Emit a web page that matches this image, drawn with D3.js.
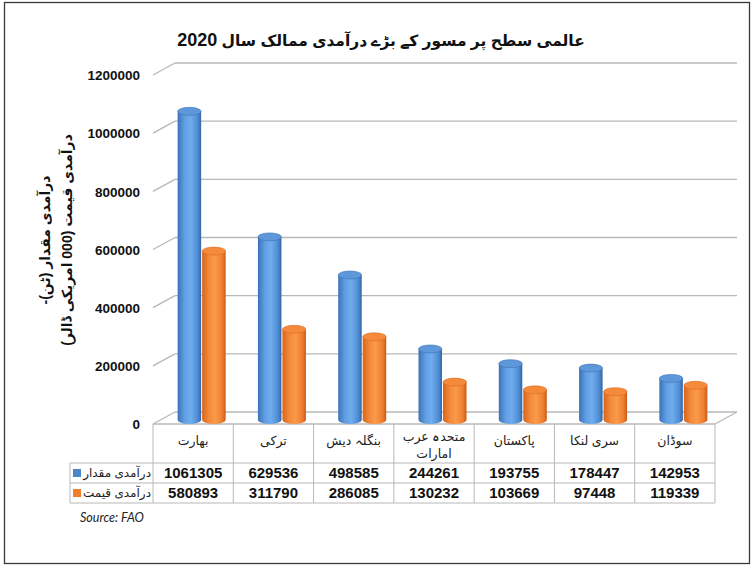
<!DOCTYPE html>
<html><head><meta charset="utf-8">
<script src="https://cdn.jsdelivr.net/npm/d3@7/dist/d3.min.js"></script>
<style>
html,body{margin:0;padding:0;background:#fff;}
svg{display:block;}
</style></head>
<body>
<svg id="chart" width="753" height="567"></svg>
<script>
const categories = ["بھارت", "ترکی", "بنگلہ دیش", "متحدہ عرب امارات", "پاکستان", "سری لنکا", "سوڈان"];
const categoryLines = [["بھارت"], ["ترکی"], ["بنگلہ دیش"], ["متحدہ عرب", "امارات"], ["پاکستان"], ["سری لنکا"], ["سوڈان"]];
const seriesNames = ["درآمدی مقدار", "درآمدی قیمت"];
const quantity = [1061305, 629536, 498585, 244261, 193755, 178447, 142953];
const value = [580893, 311790, 286085, 130232, 103669, 97448, 119339];
const yTicks = [0, 200000, 400000, 600000, 800000, 1000000, 1200000];
const titleText = "عالمی سطح پر مسور کے بڑے درآمدی ممالک سال";
const titleYear = "2020";
const yLabelLines = ["درآمدی مقدار (ٹن)-", "درآمدی قیمت (000 امریکی ڈالر)"];
const sourceText = "Source: FAO";

const svg = d3.select("#chart");
const font = "'Liberation Sans', Arial, 'DejaVu Sans', sans-serif";
const gridColor = "#B8B8B8";

// outer frame
svg.append("rect").attr("x", 4.5).attr("y", 2.5).attr("width", 745).attr("height", 561)
  .attr("fill", "#fff").attr("stroke", "#3a3a3a").attr("stroke-width", 1.3);

// title
const t = svg.append("text").attr("x", 381).attr("y", 46).attr("text-anchor", "middle")
  .attr("direction", "rtl")
  .attr("font-family", font).attr("font-weight", "bold")
  .attr("fill", "#111");
t.append("tspan").attr("font-size", 15.5).text(titleText + " ");
t.append("tspan").attr("font-size", 18).text(titleYear);

const left = 153, right = 715, y0 = 424, yTop = 75;
const depthX = 22, depthY = -12;
const y = d3.scaleLinear().domain([0, 1200000]).range([y0, yTop]);
const x0 = d3.scaleBand().domain(categories).range([left, right]).paddingInner(0).paddingOuter(0);
const series = ["q", "v"];
const bw = x0.bandwidth();
const x1 = d3.scaleBand().domain(series).range([bw / 2 - 24, bw / 2 + 24]).paddingInner(0.04);

// gridlines: back wall + side diagonals
const grid = svg.append("g");
yTicks.forEach(tk => {
  const yy = y(tk);
  grid.append("line").attr("x1", left).attr("y1", yy).attr("x2", left + depthX).attr("y2", yy + depthY)
    .attr("stroke", gridColor).attr("stroke-width", 1.3);
  grid.append("line").attr("x1", left + depthX).attr("y1", yy + depthY).attr("x2", right + depthX).attr("y2", yy + depthY)
    .attr("stroke", gridColor).attr("stroke-width", 1.3);
});
// floor
grid.append("line").attr("x1", left).attr("y1", y0).attr("x2", right).attr("y2", y0).attr("stroke", gridColor).attr("stroke-width", 1.3);
grid.append("line").attr("x1", right).attr("y1", y0).attr("x2", right + depthX).attr("y2", y0 + depthY).attr("stroke", gridColor).attr("stroke-width", 1.3);

// y axis labels
const yAxis = d3.axisLeft(y).tickValues(yTicks).tickFormat(d3.format("d")).tickSize(0).tickPadding(0);
const ga = svg.append("g").attr("transform", `translate(140,0)`).call(yAxis);
ga.select(".domain").remove();
ga.selectAll("text").attr("font-family", font).attr("font-weight", "bold").attr("font-size", 13.5).attr("fill", "#111").attr("dy", "0.35em");

// y axis title
yLabelLines.forEach((l, i) => {
  svg.append("text").attr("transform", `translate(${50 + i * 22},240) rotate(-90)`)
    .attr("text-anchor", "middle").attr("direction", "rtl")
    .attr("font-family", font).attr("font-weight", "bold").attr("font-size", 14).attr("fill", "#111")
    .text(l);
});

// gradients
const defs = svg.append("defs");
function grad(id, stops) {
  const g = defs.append("linearGradient").attr("id", id).attr("x1", "0%").attr("x2", "100%").attr("y1", "0%").attr("y2", "0%");
  stops.forEach(s => g.append("stop").attr("offset", s[0]).attr("stop-color", s[1]));
}
grad("gq", [["0%", "#3A72B8"], ["30%", "#639FE3"], ["55%", "#6FADEE"], ["85%", "#4F8CD2"], ["100%", "#3366A6"]]);
grad("gv", [["0%", "#D8641A"], ["30%", "#F48B3C"], ["55%", "#F99A4C"], ["85%", "#EE7E2E"], ["100%", "#C85A14"]]);
const topFill = { q: "#5E98DA", v: "#F48A3A" };
const topStroke = { q: "#3C72B5", v: "#D96C22" };
const legendColor = { q: "#4A86CC", v: "#F07F2C" };

// cylinders
const shiftX = 8.5, baseY = -4;
const ry = 4;
const data = categories.map((c, i) => ({ c, q: quantity[i], v: value[i] }));
const bars = svg.append("g");
data.forEach(d => {
  series.forEach(s => {
    const bx = x0(d.c) + x1(s) + shiftX;
    const w = x1.bandwidth();
    const rx = w / 2;
    const cx = bx + rx;
    const yb = y(0) + baseY;
    const yt = y(d[s]) + baseY;
    const p = `M${bx},${yt} L${bx},${yb} A${rx},${ry} 0 0 0 ${bx + w},${yb} L${bx + w},${yt} Z`;
    bars.append("path").attr("d", p).attr("fill", `url(#g${s})`);
    bars.append("ellipse").attr("cx", cx).attr("cy", yt).attr("rx", rx).attr("ry", ry)
      .attr("fill", topFill[s]).attr("stroke", topStroke[s]).attr("stroke-width", 0.6);
  });
});

// table
const tab = svg.append("g");
const rowY = [424, 463, 483, 503];
const tableLeft = 70;
[1, 2, 3].forEach(r => {
  tab.append("line").attr("x1", tableLeft).attr("x2", right).attr("y1", rowY[r]).attr("y2", rowY[r]).attr("stroke", gridColor);
});
tab.append("line").attr("x1", tableLeft).attr("x2", tableLeft).attr("y1", rowY[1]).attr("y2", rowY[3]).attr("stroke", gridColor);
categories.concat(["__end"]).forEach((c, i) => {
  const xx = i < categories.length ? x0(c) : right;
  tab.append("line").attr("x1", xx).attr("x2", xx).attr("y1", rowY[0]).attr("y2", rowY[3]).attr("stroke", gridColor);
});
// category labels and values
data.forEach((d, i) => {
  const lines = categoryLines[i];
  const cx = x0(d.c) + bw / 2;
  lines.forEach((l, j) => {
    const yy = lines.length === 1 ? 441 : 437 + j * 17;
    tab.append("text").attr("x", cx).attr("y", yy).attr("text-anchor", "middle").attr("direction", "rtl")
      .attr("font-family", font).attr("font-size", 12.5).attr("fill", "#222").attr("dy", "0.35em").text(l);
  });
  tab.append("text").attr("x", cx).attr("y", 473).attr("dy", "0.36em").attr("text-anchor", "middle")
    .attr("font-family", font).attr("font-weight", "bold").attr("font-size", 15).attr("fill", "#111").text(d.q);
  tab.append("text").attr("x", cx).attr("y", 493).attr("dy", "0.36em").attr("text-anchor", "middle")
    .attr("font-family", font).attr("font-weight", "bold").attr("font-size", 15).attr("fill", "#111").text(d.v);
});
// legend cells
series.forEach((s, i) => {
  const yy = 473 + i * 20;
  tab.append("rect").attr("x", 73).attr("y", yy - 4).attr("width", 8).attr("height", 8).attr("fill", legendColor[s]);
  tab.append("text").attr("x", 151).attr("y", yy).attr("dy", "0.35em").attr("text-anchor", "start").attr("direction", "rtl")
    .attr("font-family", font).attr("font-size", 12).attr("fill", "#222").text(seriesNames[i]);
});

// source
svg.append("text").attr("x", 80).attr("y", 522).attr("font-family", "Lato, 'Open Sans', sans-serif")
  .attr("font-style", "italic").attr("font-size", 12.5).attr("fill", "#222").text(sourceText);
</script>
</body></html>
